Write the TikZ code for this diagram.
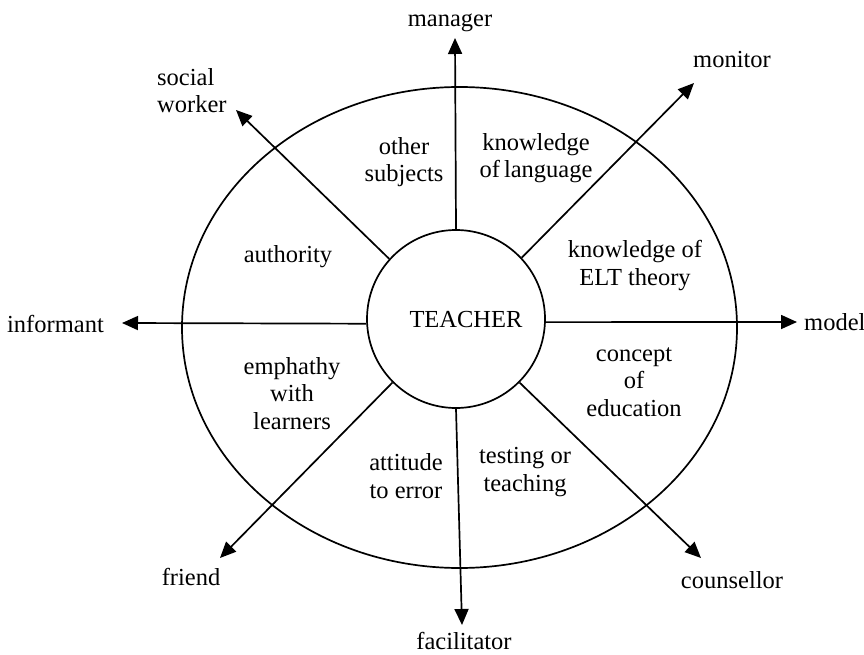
\documentclass[tikz,border=0pt]{standalone}
\usepackage{fontspec}
\setmainfont{Liberation Serif}
\usetikzlibrary{arrows.meta}
\begin{document}
\begin{tikzpicture}[x=1pt,y=-1pt,
  every node/.style={inner sep=0pt, font=\fontsize{24.5}{27.5}\selectfont},
  txt/.style={anchor=base, align=center},
  ring/.style={line width=1.7pt},
  hub/.style={circle, draw, line width=1.7pt, minimum size=178pt},
  spoke/.style={line width=1.7pt, -{Triangle[length=16pt,width=14pt]}},
]
\useasboundingbox (0,0) rectangle (864,655);

% outer ring
\draw[ring] (459.5,327.5) ellipse [x radius=277.5, y radius=240.5];

% central circle
\node[hub] (teacher) at (456,319) {};
\node[txt] (teachertext) at (466,327) {TEACHER};

% arrow tips of the eight roles
\coordinate (tipN)  at (455,38);
\coordinate (tipS)  at (462,625);
\coordinate (tipW)  at (122,323);
\coordinate (tipE)  at (797,322);
\coordinate (tipNW) at (236,110);
\coordinate (tipNE) at (694,83);
\coordinate (tipSW) at (220,558);
\coordinate (tipSE) at (701,558);

\draw[spoke] (teacher.north) -- (tipN);
\draw[spoke] (teacher.south) -- (tipS);
\draw[spoke] (teacher.183)   -- (tipW);
\draw[spoke] (teacher.-2)    -- (tipE);
\draw[spoke] (teacher.138)   -- (tipNW);
\draw[spoke] (teacher.43)    -- (tipNE);
\draw[spoke] (teacher.225)   -- (tipSW);
\draw[spoke] (teacher.-45)   -- (tipSE);

% roles (multi-line nodes are placed by the baseline of their last line)
\node[txt] (manager) at (450,27) {manager};
\node[txt] (monitor) at (732,68) {monitor};
\node[anchor=base west, align=left] (social) at (157,113) {social\\worker};
\node[anchor=base east] (informant) at (104,332) {informant};
\node[anchor=base west] (model) at (804,330) {model};
\node[txt] (friend) at (191,585) {friend};
\node[txt] (facilitator) at (464,649) {facilitator};
\node[txt] (counsellor) at (732,588) {counsellor};

% qualities inside the ring
\node[txt] (other) at (404,182) {other\\subjects};
\node[txt] (knowlang) at (536,178) {knowledge\\of\,language};
\node[txt] (authority) at (288,262) {authority};
\node[txt] (knowelt) at (635,285) {knowledge of\\ELT theory};
\node[txt] (empathy) at (292,429) {emphathy\\with\\learners};
\node[txt] (concept) at (634,416) {concept\\of\\education};
\node[txt] (attitude) at (406,498) {attitude\\to error};
\node[txt] (testing) at (525,491) {testing or\\teaching};
\end{tikzpicture}
\end{document}
